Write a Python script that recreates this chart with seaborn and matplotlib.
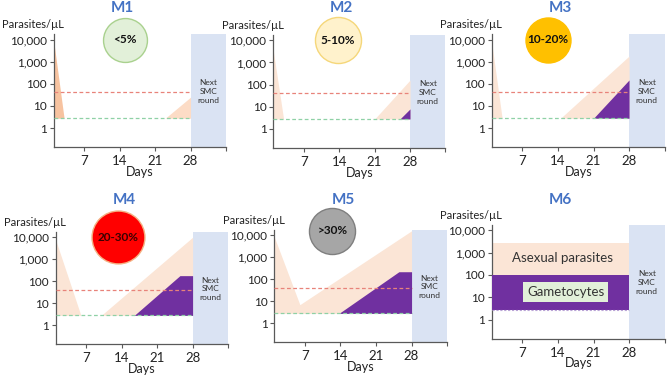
import numpy as np
import pandas as pd
import matplotlib
matplotlib.use("Agg")
import matplotlib.pyplot as plt
import matplotlib.transforms as mtrans
import seaborn as sns

# ---- data ----
panel_names = ["M1", "M2", "M3", "M4", "M5", "M6"]
circle_labels = ["<5%", "5-10%", "10-20%", "20-30%", ">30%", None]
circle_days = [15, 13.7, 12, 13.4, 12.4, None]
circle_vals = [10000, 10000, 10000, 10000, 16000, None]

floor_val = 2.8      # green dashed line (detection limit)
red_val = 42         # red dashed line

# asexual parasite shapes (days, upper values), lower edge = floor_val
asex_days = [
    [[1, 3], [23, 28]],
    [[1, 3], [21, 28]],
    [[1, 3], [14.5, 28]],
    [[1, 6], [10, 28]],
    [[1, 6, 28]],
    [[1, 28]],
]
asex_vals = [
    [[7000, floor_val], [floor_val, 25]],
    [[3000, floor_val], [floor_val, 160]],
    [[6000, floor_val], [floor_val, 1800]],
    [[8000, floor_val], [floor_val, 10000]],
    [[8000, 7, 16000]],
    [[2600, 2600]],
]
# gametocyte shapes
gam_days = [[], [26, 28], [21, 28], [16.5, 25.5, 28], [13.7, 25.5, 28], [1, 28]]
gam_vals = [[], [floor_val, 8], [floor_val, 150], [floor_val, 180, 180],
            [floor_val, 220, 220], [100, 100]]

x_ticks = [7, 14, 21, 28, 35]
x_ticklabels = ["7", "14", "21", "28", ""]
y_ticks = [1, 10, 100, 1000, 10000]
y_ticklabels = ["1", "10", "100", "1,000", "10,000"]

# ---- style ----
sns.set_theme(style="ticks")
plt.rcParams["font.family"] = ["Lato", "DejaVu Sans"]

peach = "#fbe5d6"
peach_dark = "#f7c3a0"
purple = "#7030a0"
smc_blue = "#dae3f3"
title_blue = "#4472c4"
circle_face = ["#e2f0d9", "#fff2cc", "#ffc000", "#ff0000", "#a6a6a6", None]
circle_edge = ["#a9d18e", "#f5d77a", "#ffc000", "#f4b183", "#7f7f7f", None]
circle_size = [1000, 1100, 1050, 1450, 1100, None]

positions = [
    [0.0807, 0.610, 0.257, 0.300],
    [0.4088, 0.608, 0.257, 0.300],
    [0.7354, 0.610, 0.258, 0.300],
    [0.0830, 0.0875, 0.258, 0.298],
    [0.4103, 0.0928, 0.258, 0.298],
    [0.7354, 0.1020, 0.258, 0.302],
]
title_y = [0.978, 0.978, 0.978, 0.47, 0.47, 0.47]

fig = plt.figure(figsize=(6.69, 3.77), dpi=100)

for i, name in enumerate(panel_names):
    ax = fig.add_axes(positions[i])
    ax.set_yscale("log")
    ax.set_xlim(1, 35)
    ax.set_ylim(0.14, 18000)

    ax.axvspan(28, 35, color=smc_blue, lw=0, zorder=1)
    ax.text(31.5, 45, "Next\nSMC\nround", ha="center", va="center",
            fontsize=6, color="#333333", linespacing=1.3, zorder=5)

    for k, (dd, vv) in enumerate(zip(asex_days[i], asex_vals[i])):
        col = peach
        if i == 0:
            col = peach_dark if k == 0 else "#fcdcc6"
        ax.fill_between(dd, [floor_val] * len(dd), vv, color=col, lw=0, zorder=2)
    if gam_days[i]:
        ax.fill_between(gam_days[i], [floor_val] * len(gam_days[i]), gam_vals[i],
                        color=purple, lw=0, zorder=3)

    if i < 5:
        lines = pd.DataFrame({"day": [1, 28, 1, 28],
                              "val": [red_val, red_val, floor_val, floor_val],
                              "kind": ["red", "red", "green", "green"]})
        sns.lineplot(data=lines, x="day", y="val", hue="kind",
                     palette={"red": "#e8837a", "green": "#8fd1a6"},
                     linestyle=(0, (3, 2)), lw=0.9, legend=False, ax=ax, zorder=4)
    else:
        lines = pd.DataFrame({"day": [1, 28], "val": [floor_val, floor_val]})
        sns.lineplot(data=lines, x="day", y="val", color="#b9a3d6",
                     linestyle=(0, (2, 1.5)), lw=0.8, legend=False, ax=ax, zorder=4)
        ax.text(14.8, 550, "Asexual parasites", ha="center", va="center",
                fontsize=9.5, color="#333333", zorder=6)
        ax.text(15.5, 17, "Gametocytes", ha="center", va="center",
                fontsize=9.5, color="#333333", zorder=6,
                bbox=dict(boxstyle="square,pad=0.3", fc="#e2f0d9", ec="none"))

    ax.set_xticks(x_ticks)
    ax.set_xticklabels(x_ticklabels)
    ax.set_yticks(y_ticks)
    ax.set_yticklabels(y_ticklabels)
    ax.minorticks_off()
    ax.tick_params(axis="both", length=3, width=0.8,
                   color="#595959", labelcolor="#222222", pad=2)
    ax.tick_params(axis="y", labelsize=8.5)
    ax.tick_params(axis="x", labelsize=9.5, pad=3)
    ax.set_xlabel("Days", fontsize=9, color="#222222", labelpad=-1)
    ax.set_ylabel("")
    sns.despine(ax=ax)
    for sp in ["left", "bottom"]:
        ax.spines[sp].set_color("#595959")
        ax.spines[sp].set_linewidth(0.9)

    ax.text(-0.30, 1.085, "Parasites/µL", transform=ax.transAxes,
            ha="left", va="center", fontsize=8, color="#222222")

    tr = mtrans.blended_transform_factory(ax.transData, fig.transFigure)
    ax.text(14.5, title_y[i], name, transform=tr, ha="center", va="center",
            fontsize=11, fontweight="bold", color=title_blue)

    if circle_labels[i] is not None:
        ax.scatter([circle_days[i]], [circle_vals[i]], s=circle_size[i],
                   color=circle_face[i], edgecolor=circle_edge[i], lw=1,
                   clip_on=False, zorder=10)
        ax.text(circle_days[i], circle_vals[i], circle_labels[i], ha="center",
                va="center", fontsize=8.5, fontweight="bold",
                color="#3a0000" if i == 3 else "#111111", zorder=11)

fig.savefig("out.png", dpi=100)
